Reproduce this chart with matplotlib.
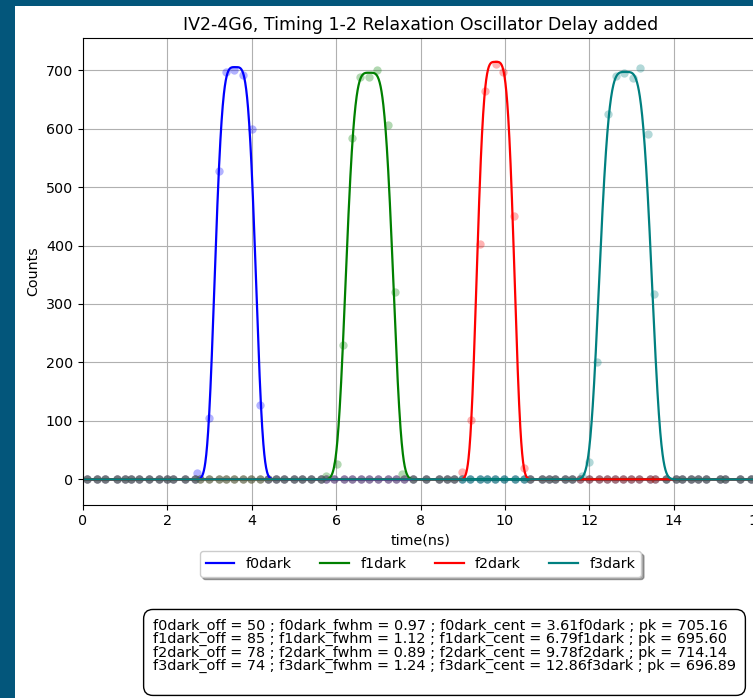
import numpy as np
import matplotlib
matplotlib.use('Agg')
import matplotlib.pyplot as plt
from matplotlib.patches import Rectangle

plt.rcParams['font.size'] = 10.3

# shared sampling times of the baseline samples (ns)
t_base = [0.1, 0.33, 0.52, 0.8, 1.0, 1.13, 1.32, 1.57, 1.79, 2.0, 2.14, 2.42, 2.65,
          2.78, 2.99, 3.22, 3.38, 3.57, 3.79, 3.99, 4.2, 4.38, 4.57, 4.76, 5.0, 5.2,
          5.4, 5.63, 5.76, 5.96, 6.18, 6.38, 6.58, 6.79, 7.0, 7.23, 7.41, 7.62, 7.83,
          8.14, 8.43, 8.62, 8.79, 8.98, 9.17, 9.4, 9.57, 9.76, 9.98, 10.24, 10.45,
          10.6, 10.88, 11.05, 11.19, 11.43, 11.6, 11.79, 12.0, 12.24, 12.43, 12.62,
          12.79, 12.98, 13.19, 13.43, 13.57, 13.81, 14.05, 14.21, 14.4, 14.57, 14.76,
          15.1, 15.21, 15.57, 15.83, 16.05, 16.3]

# samples in each peak
f0_t = [2.71, 2.98, 3.22, 3.40, 3.58, 3.80, 4.00, 4.19]
f0_c = [11, 105, 528, 697, 701, 691, 599, 127]
f1_t = [5.75, 6.02, 6.17, 6.37, 6.57, 6.78, 6.98, 7.23, 7.39, 7.57]
f1_c = [5, 26, 229, 584, 689, 688, 701, 607, 321, 9]
f2_t = [8.98, 9.20, 9.41, 9.52, 9.79, 9.96, 10.21, 10.45]
f2_c = [12, 101, 403, 664, 711, 697, 450, 19]
f3_t = [11.83, 11.99, 12.19, 12.44, 12.63, 12.82, 13.03, 13.20, 13.39, 13.54]
f3_c = [5, 29, 200, 625, 690, 695, 686, 703, 591, 317]

# fit results
names = ['f0dark', 'f1dark', 'f2dark', 'f3dark']
off = [50, 85, 78, 74]
fwhm = [0.97, 1.12, 0.89, 1.24]
cent = [3.61, 6.79, 9.78, 12.86]
pk = [705.16, 695.60, 714.14, 696.89]
colors = ['b', 'g', 'r', 'teal']

peaks_t = [f0_t, f1_t, f2_t, f3_t]
peaks_c = [f0_c, f1_c, f2_c, f3_c]


def flat_gauss(x, c, w, a, p=4):
    return a * np.exp(-np.log(2) * np.abs(2 * (x - c) / w) ** p)


fig = plt.figure(figsize=(7.53, 6.98), dpi=100)
fig.add_artist(Rectangle((0, 0), 15 / 753, 1, transform=fig.transFigure,
                         facecolor='#03567b', edgecolor='none'))
fig.add_artist(Rectangle((0, 1 - 6 / 698), 1, 6 / 698, transform=fig.transFigure,
                         facecolor='#03567b', edgecolor='none'))

ax = fig.add_axes([83 / 753, (698 - 504.5) / 698, 675 / 753, 466.5 / 698])

xs = np.linspace(0, 16.5, 3000)
tb = np.array(t_base)
for i in range(4):
    pt = np.array(peaks_t[i])
    keep = (tb < pt.min() - 0.05) | (tb > pt.max() + 0.05)
    t_all = np.concatenate([tb[keep], pt])
    c_all = np.concatenate([np.zeros(keep.sum()), peaks_c[i]])
    ax.scatter(t_all, c_all, s=36, color=colors[i], alpha=0.3, linewidths=0)
    ax.plot(xs, flat_gauss(xs, cent[i], fwhm[i], pk[i]), color=colors[i],
            linewidth=1.6, label=names[i])

ax.set_xlim(0, 16)
ax.set_ylim(-43, 755)
ax.grid(True)
ax.set_axisbelow(True)
ax.set_title('IV2-4G6, Timing 1-2 Relaxation Oscillator Delay added', fontsize=12.5)
ax.set_xlabel('time(ns)')
ax.set_ylabel('Counts')
ax.legend(loc='upper center', bbox_to_anchor=(0.5, -0.085), ncol=4,
          fancybox=True, shadow=True)

lines = []
for i in range(4):
    lines.append('%s_off = %d ; %s_fwhm = %.2f ; %s_cent = %.2f%s ; pk = %.2f'
                 % (names[i], off[i], names[i], fwhm[i], names[i], cent[i],
                    names[i], pk[i]))
fig.text(153 / 753, 1 - 619 / 698, '\n'.join(lines) + '\n', fontsize=10.4,
         va='top', linespacing=0.92,
         bbox=dict(boxstyle='round,pad=0.65', facecolor='white', edgecolor='black'))

fig.savefig('out.png', dpi=100)
